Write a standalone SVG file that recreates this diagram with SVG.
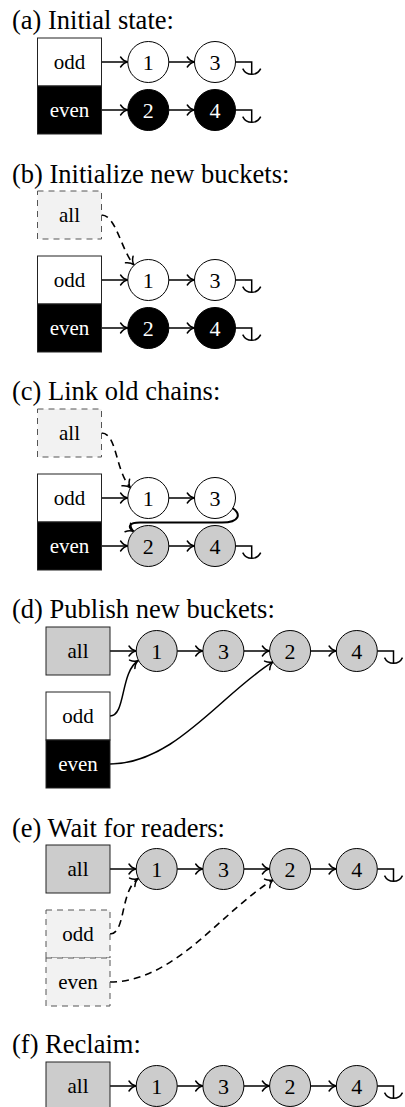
<svg xmlns="http://www.w3.org/2000/svg" width="405" height="1107" viewBox="0 0 405 1107">
<style>
.title{font-family:"Liberation Serif","Times New Roman",serif;font-size:26.5px;fill:#000}
.lbl{font-family:"Liberation Serif","Times New Roman",serif;font-size:21px;text-anchor:middle;fill:#000}
.num{font-family:"Liberation Serif","Times New Roman",serif;font-size:22px;text-anchor:middle;fill:#000}
.w{fill:#fff}
.box{stroke:#222;stroke-width:1}
.bw{fill:#fff}
.bb{fill:#000}
.bg{fill:#cccccc}
.bd{fill:#f2f2f2;stroke:#555;stroke-dasharray:6 5}
.nw{fill:#fff;stroke:#000;stroke-width:1}
.nb{fill:#000;stroke:#000;stroke-width:1}
.ng{fill:#cccccc;stroke:#000;stroke-width:1}
.c{fill:none;stroke:#000;stroke-width:1.5}
.ca{fill:none;stroke:#000;stroke-width:1.5;marker-end:url(#arr)}
.cd{fill:none;stroke:#000;stroke-width:1.6;stroke-dasharray:7 5;marker-end:url(#arr)}
.ct{fill:none;stroke:#000;stroke-width:2;marker-end:url(#arr)}
</style>
<defs>
<marker id="arr" viewBox="-9 -6 10 12" markerWidth="10" markerHeight="12" refX="0" refY="0" orient="auto" markerUnits="userSpaceOnUse" overflow="visible">
<path d="M-7.2,-5 C-5,-1.8 -2.2,-0.4 0,0 C-2.2,0.4 -5,1.8 -7.2,5" fill="none" stroke="#000" stroke-width="1.5" stroke-linecap="round"/>
</marker>
</defs>

<!-- ===== (a) ===== -->
<text class="title" x="12" y="29">(a) Initial state:</text>
<g id="connectors-a">
<path class="ca" d="M101.5,62 H127.8"/>
<path class="ca" d="M168.8,62 H194.5"/>
<path class="c" d="M235.5,62 H251.7 V74.3 M242.7,68.7 A10,10 0 0 0 260.7,68.7"/>
<path class="ca" d="M101.5,110 H127.8"/>
<path class="ca" d="M168.8,110 H194.5"/>
<path class="c" d="M235.5,110 H251.7 V122.3 M242.7,116.7 A10,10 0 0 0 260.7,116.7"/>
</g>
<g id="a-odd"><rect class="box bw" x="37.5" y="38" width="64" height="48"/><text class="lbl" x="69.5" y="69">odd</text></g>
<g id="a-even"><rect class="box bb" x="37.5" y="86" width="64" height="48"/><text class="lbl w" x="69.5" y="117">even</text></g>
<g id="a-n1"><circle class="nw" cx="148.3" cy="62" r="20.5"/><text class="num" x="148.3" y="69.5">1</text></g>
<g id="a-n3"><circle class="nw" cx="215" cy="62" r="20.5"/><text class="num" x="215" y="69.5">3</text></g>
<g id="a-n2"><circle class="nb" cx="148.3" cy="110" r="20.5"/><text class="num w" x="148.3" y="117.5">2</text></g>
<g id="a-n4"><circle class="nb" cx="215" cy="110" r="20.5"/><text class="num w" x="215" y="117.5">4</text></g>

<!-- ===== (b) ===== -->
<text class="title" x="12" y="183">(b) Initialize new buckets:</text>
<g id="connectors-b">
<path class="cd" d="M101.5,215 C116,215 121,250 134,265"/>
<path class="ca" d="M101.5,280 H127.8"/>
<path class="ca" d="M168.8,280 H194.5"/>
<path class="c" d="M235.5,280 H251.7 V292.3 M242.7,286.7 A10,10 0 0 0 260.7,286.7"/>
<path class="ca" d="M101.5,328 H127.8"/>
<path class="ca" d="M168.8,328 H194.5"/>
<path class="c" d="M235.5,328 H251.7 V340.3 M242.7,334.7 A10,10 0 0 0 260.7,334.7"/>
</g>
<g id="b-all"><rect class="bd" x="37.5" y="191" width="64" height="48"/><text class="lbl" x="69.5" y="222">all</text></g>
<g id="b-odd"><rect class="box bw" x="37.5" y="256" width="64" height="48"/><text class="lbl" x="69.5" y="287">odd</text></g>
<g id="b-even"><rect class="box bb" x="37.5" y="304" width="64" height="48"/><text class="lbl w" x="69.5" y="335">even</text></g>
<g id="b-n1"><circle class="nw" cx="148.3" cy="280" r="20.5"/><text class="num" x="148.3" y="287.5">1</text></g>
<g id="b-n3"><circle class="nw" cx="215" cy="280" r="20.5"/><text class="num" x="215" y="287.5">3</text></g>
<g id="b-n2"><circle class="nb" cx="148.3" cy="328" r="20.5"/><text class="num w" x="148.3" y="335.5">2</text></g>
<g id="b-n4"><circle class="nb" cx="215" cy="328" r="20.5"/><text class="num w" x="215" y="335.5">4</text></g>

<!-- ===== (c) ===== -->
<text class="title" x="12" y="400">(c) Link old chains:</text>
<g id="connectors-c">
<path class="cd" d="M101.5,433 C117,433 115,470 130.5,488"/>
<path class="ca" d="M101.5,498 H127.8"/>
<path class="ca" d="M168.8,498 H194.5"/>
<path class="ct" d="M232.7,508.3 C241,514 240,522.5 222,522.5 L140,522.5 C129,522.5 127,527 133.8,531.5"/>
<path class="ca" d="M101.5,546 H127.8"/>
<path class="ca" d="M168.8,546 H194.5"/>
<path class="c" d="M235.5,546 H251.7 V558.3 M242.7,552.7 A10,10 0 0 0 260.7,552.7"/>
</g>
<g id="c-all"><rect class="bd" x="37.5" y="409" width="64" height="48"/><text class="lbl" x="69.5" y="440">all</text></g>
<g id="c-odd"><rect class="box bw" x="37.5" y="474" width="64" height="48"/><text class="lbl" x="69.5" y="505">odd</text></g>
<g id="c-even"><rect class="box bb" x="37.5" y="522" width="64" height="48"/><text class="lbl w" x="69.5" y="553">even</text></g>
<g id="c-n1"><circle class="nw" cx="148.3" cy="498" r="20.5"/><text class="num" x="148.3" y="505.5">1</text></g>
<g id="c-n3"><circle class="nw" cx="215" cy="498" r="20.5"/><text class="num" x="215" y="505.5">3</text></g>
<g id="c-n2"><circle class="ng" cx="148.3" cy="546" r="20.5"/><text class="num" x="148.3" y="553.5">2</text></g>
<g id="c-n4"><circle class="ng" cx="215" cy="546" r="20.5"/><text class="num" x="215" y="553.5">4</text></g>

<!-- ===== (d) ===== -->
<text class="title" x="12" y="618">(d) Publish new buckets:</text>
<g id="connectors-d">
<path class="ca" d="M110,651 H136.2"/>
<path class="ca" d="M177.2,651 H202.9"/>
<path class="ca" d="M243.9,651 H269.6"/>
<path class="ca" d="M310.6,651 H336.3"/>
<path class="c" d="M377.3,651 H393.5 V663.3 M384.5,657.7 A10,10 0 0 0 402.5,657.7"/>
<path class="ca" d="M110,716 C126,716 120,672 138.3,660.5"/>
<path class="ca" d="M110,764 C175,764 223,692 273.3,661.7"/>
</g>
<g id="d-all"><rect class="box bg" x="46" y="627" width="64" height="48"/><text class="lbl" x="78" y="658">all</text></g>
<g id="d-odd"><rect class="box bw" x="46" y="692" width="64" height="48"/><text class="lbl" x="78" y="723">odd</text></g>
<g id="d-even"><rect class="box bb" x="46" y="740" width="64" height="48"/><text class="lbl w" x="78" y="771">even</text></g>
<g id="d-n1"><circle class="ng" cx="156.7" cy="651" r="20.5"/><text class="num" x="156.7" y="658.5">1</text></g>
<g id="d-n3"><circle class="ng" cx="223.4" cy="651" r="20.5"/><text class="num" x="223.4" y="658.5">3</text></g>
<g id="d-n2"><circle class="ng" cx="290.1" cy="651" r="20.5"/><text class="num" x="290.1" y="658.5">2</text></g>
<g id="d-n4"><circle class="ng" cx="356.8" cy="651" r="20.5"/><text class="num" x="356.8" y="658.5">4</text></g>

<!-- ===== (e) ===== -->
<text class="title" x="12" y="837">(e) Wait for readers:</text>
<g id="connectors-e">
<path class="ca" d="M110,869 H136.2"/>
<path class="ca" d="M177.2,869 H202.9"/>
<path class="ca" d="M243.9,869 H269.6"/>
<path class="ca" d="M310.6,869 H336.3"/>
<path class="c" d="M377.3,869 H393.5 V881.3 M384.5,875.7 A10,10 0 0 0 402.5,875.7"/>
<path class="cd" d="M110,934 C126,934 120,890 138.3,878.5"/>
<path class="cd" d="M110,982 C175,982 223,910 273.3,879.7"/>
</g>
<g id="e-all"><rect class="box bg" x="46" y="845" width="64" height="48"/><text class="lbl" x="78" y="876">all</text></g>
<g id="e-odd"><rect class="bd" x="46" y="910" width="64" height="48"/><text class="lbl" x="78" y="941">odd</text></g>
<g id="e-even"><rect class="bd" x="46" y="958" width="64" height="48"/><text class="lbl" x="78" y="989">even</text></g>
<g id="e-n1"><circle class="ng" cx="156.7" cy="869" r="20.5"/><text class="num" x="156.7" y="876.5">1</text></g>
<g id="e-n3"><circle class="ng" cx="223.4" cy="869" r="20.5"/><text class="num" x="223.4" y="876.5">3</text></g>
<g id="e-n2"><circle class="ng" cx="290.1" cy="869" r="20.5"/><text class="num" x="290.1" y="876.5">2</text></g>
<g id="e-n4"><circle class="ng" cx="356.8" cy="869" r="20.5"/><text class="num" x="356.8" y="876.5">4</text></g>

<!-- ===== (f) ===== -->
<text class="title" x="12" y="1053">(f) Reclaim:</text>
<g id="connectors-f">
<path class="ca" d="M110,1086 H136.2"/>
<path class="ca" d="M177.2,1086 H202.9"/>
<path class="ca" d="M243.9,1086 H269.6"/>
<path class="ca" d="M310.6,1086 H336.3"/>
<path class="c" d="M377.3,1086 H393.5 V1098.3 M384.5,1092.7 A10,10 0 0 0 402.5,1092.7"/>
</g>
<g id="f-all"><rect class="box bg" x="46" y="1062" width="64" height="48"/><text class="lbl" x="78" y="1093">all</text></g>
<g id="f-n1"><circle class="ng" cx="156.7" cy="1086" r="20.5"/><text class="num" x="156.7" y="1093.5">1</text></g>
<g id="f-n3"><circle class="ng" cx="223.4" cy="1086" r="20.5"/><text class="num" x="223.4" y="1093.5">3</text></g>
<g id="f-n2"><circle class="ng" cx="290.1" cy="1086" r="20.5"/><text class="num" x="290.1" y="1093.5">2</text></g>
<g id="f-n4"><circle class="ng" cx="356.8" cy="1086" r="20.5"/><text class="num" x="356.8" y="1093.5">4</text></g>
</svg>
